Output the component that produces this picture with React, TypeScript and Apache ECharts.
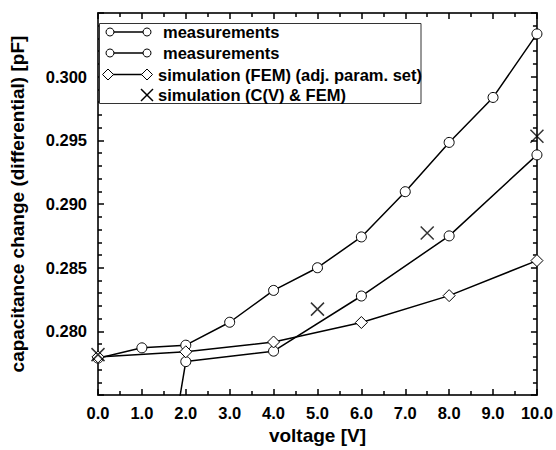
import React, { useEffect, useRef } from "react";
import * as echarts from "echarts";

const measA: [number, number][] = [
  [0, 0.2779], [1, 0.27871], [2, 0.27892], [3, 0.28072], [4, 0.28322],
  [5, 0.2850], [6, 0.28742], [7, 0.29097], [8, 0.29484], [9, 0.29837], [10, 0.30336],
];
const measB: [number, number][] = [
  [1, 0.257], [2, 0.27763], [4, 0.27845], [6, 0.28278], [8, 0.2875], [10, 0.29386],
];
const simFEM: [number, number][] = [
  [0, 0.2780], [2, 0.2784], [4, 0.27917], [6, 0.2807], [8, 0.28281], [10, 0.28556],
];
const simCV: [number, number][] = [
  [0, 0.27818], [5, 0.28175], [7.5, 0.28773], [10, 0.29532],
];
const legendLabels = [
  "measurements",
  "measurements",
  "simulation (FEM) (adj. param. set)",
  "simulation (C(V) & FEM)",
];

const FONT = "'Liberation Sans', Arial, Helvetica, sans-serif";
const XSYM = "path://M0,0L12,12M12,0L0,12";

export default function App() {
  const ref = useRef<HTMLDivElement>(null);
  useEffect(() => {
    if (!ref.current) return;
    const chart = echarts.init(ref.current, undefined, { renderer: "svg" });
    const axisLine = { show: true, onZero: false, lineStyle: { color: "#333", width: 2 } };
    const tick = { show: true, inside: true, length: 6, lineStyle: { color: "#000", width: 1.5 } };
    const xMinor = { show: true, splitNumber: 2, length: 4, lineStyle: { color: "#000", width: 1.5 } };
    const yMinor = { show: true, splitNumber: 5, length: 4, lineStyle: { color: "#000", width: 1.5 } };
    const labelStyle = { fontFamily: FONT, fontWeight: "bold" as const, fontSize: 16.5, color: "#000" };
    const circleItem = { color: "#fff", borderColor: "#000", borderWidth: 1 };
    const lineStyle = { color: "#000", width: 1.5 };

    const legendY = [32, 53, 74.5, 95];
    const legendTextX = [163, 163, 158, 158];
    const g: any[] = [
      {
        type: "rect",
        shape: { x: 99.5, y: 23.5, width: 321.5, height: 80 },
        style: { fill: "#fff", stroke: "#333", lineWidth: 1 },
        z: 10,
      },
    ];
    legendLabels.forEach((t, i) => {
      const y = legendY[i];
      if (i < 3) {
        g.push({ type: "line", shape: { x1: 110, y1: y, x2: 147, y2: y }, style: { stroke: "#000", lineWidth: 1.5 }, z: 11 });
      }
      if (i < 2) {
        [110, 147].forEach((cx) =>
          g.push({ type: "circle", shape: { cx, cy: y, r: 4 }, style: { fill: "#fff", stroke: "#000", lineWidth: 1 }, z: 12 })
        );
      } else if (i === 2) {
        [108, 147].forEach((cx) =>
          g.push({
            type: "polygon",
            shape: { points: [[cx - 5.5, y], [cx, y - 5.5], [cx + 5.5, y], [cx, y + 5.5]] },
            style: { fill: "#fff", stroke: "#000", lineWidth: 1 },
            z: 12,
          })
        );
      } else {
        g.push({ type: "line", shape: { x1: 141, y1: y - 6, x2: 153, y2: y + 6 }, style: { stroke: "#000", lineWidth: 1.5 }, z: 12 });
        g.push({ type: "line", shape: { x1: 153, y1: y - 6, x2: 141, y2: y + 6 }, style: { stroke: "#000", lineWidth: 1.5 }, z: 12 });
      }
      g.push({
        type: "text",
        x: legendTextX[i],
        y,
        style: { text: t, fontFamily: FONT, fontWeight: "bold", fontSize: 16.5, fill: "#000", verticalAlign: "middle", align: "left" },
        z: 12,
      });
    });

    chart.setOption({
      animation: false,
      backgroundColor: "#fff",
      grid: { left: 96, right: 16, top: 13, bottom: 49, containLabel: false },
      xAxis: [
        {
          type: "value", min: 0, max: 10, interval: 1, position: "bottom",
          axisLine, axisTick: tick, minorTick: xMinor, splitLine: { show: false },
          axisLabel: { ...labelStyle, margin: 9, formatter: (v: number) => v.toFixed(1) },
          name: "voltage [V]", nameLocation: "middle", nameGap: 26,
          nameTextStyle: { fontFamily: FONT, fontWeight: "bold", fontSize: 19, color: "#000" },
        },
        {
          type: "value", min: 0, max: 10, interval: 1, position: "top",
          axisLine, axisTick: tick, minorTick: xMinor, splitLine: { show: false },
          axisLabel: { show: false },
        },
      ],
      yAxis: [
        {
          type: "value", min: 0.275, max: 0.305, interval: 0.005, position: "left",
          axisLine, axisTick: tick, minorTick: yMinor, splitLine: { show: false },
          axisLabel: { ...labelStyle, margin: 11, showMinLabel: false, showMaxLabel: false, formatter: (v: number) => v.toFixed(3) },
          name: "capacitance change (differential) [pF]", nameLocation: "middle", nameGap: 71,
          nameTextStyle: { fontFamily: FONT, fontWeight: "bold", fontSize: 19, color: "#000" },
        },
        {
          type: "value", min: 0.275, max: 0.305, interval: 0.005, position: "right",
          axisLine, axisTick: tick, minorTick: yMinor, splitLine: { show: false },
          axisLabel: { show: false },
        },
      ],
      series: [
        { type: "line", data: measA, symbol: "circle", symbolSize: 10, itemStyle: circleItem, lineStyle, clip: true, z: 3 },
        { type: "line", data: measB, symbol: "circle", symbolSize: 10, itemStyle: circleItem, lineStyle, clip: true, z: 3 },
        { type: "line", data: simFEM, symbol: "diamond", symbolSize: 12, itemStyle: circleItem, lineStyle, clip: true, z: 3 },
        {
          type: "scatter", data: simCV, symbol: XSYM, symbolSize: 13,
          itemStyle: { color: "none", borderColor: "#000", borderWidth: 1.5 }, z: 4,
        },
      ],
      graphic: g,
    });
    return () => chart.dispose();
  }, []);
  return <div ref={ref} style={{ position: "absolute", left: 0, top: 0, width: 556, height: 450 }} />;
}
